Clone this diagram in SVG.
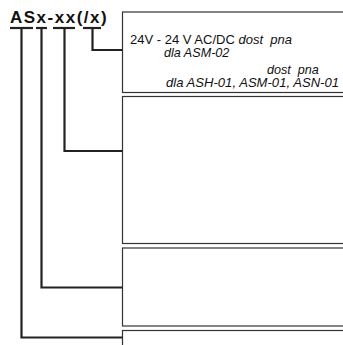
<svg xmlns="http://www.w3.org/2000/svg" width="343" height="345" viewBox="0 0 343 345">
<style>
.box{fill:#fff;stroke:#333;stroke-width:1.2}
.con{fill:none;stroke:#222;stroke-width:2.2}
.ul{stroke:#222;stroke-width:2.2}
.t{font-family:"Liberation Sans",Arial,sans-serif;font-size:12.6px;fill:#111}
.i{font-style:italic}
.title{font-family:"Liberation Sans",Arial,sans-serif;font-size:17px;font-weight:bold;fill:#111;letter-spacing:1.5px}
</style>
<rect width="343" height="345" fill="#fff"/>
<g id="title">
<text class="title" x="10" y="23">ASx-xx(/x)</text>
<line class="ul" x1="10" y1="28" x2="33" y2="28"/>
<line class="ul" x1="36" y1="28" x2="47" y2="28"/>
<line class="ul" x1="53" y1="28" x2="75" y2="28"/>
<line class="ul" x1="83" y1="28" x2="101" y2="28"/>
</g>
<g id="box1">
<rect class="box" x="122.5" y="12" width="230" height="80.5"/>
<text class="t" x="130" y="44" xml:space="preserve" textLength="162" lengthAdjust="spacingAndGlyphs">24V - 24 V AC/DC <tspan class="i">dost  pna</tspan></text>
<text class="t i" x="164" y="56.5">dla ASM-02</text>
<text class="t i" x="267" y="74" xml:space="preserve">dost  pna</text>
<text class="t i" x="166" y="86.5" textLength="173" lengthAdjust="spacingAndGlyphs">dla ASH-01, ASM-01, ASN-01</text>
</g>
<g id="box2">
<rect class="box" x="122.5" y="96.5" width="230" height="147"/>
</g>
<g id="box3">
<rect class="box" x="122.5" y="248" width="230" height="78"/>
</g>
<g id="box4">
<rect class="box" x="122.5" y="330.5" width="230" height="30"/>
</g>
<g id="connectors">
<polyline class="con" points="21.5,28 21.5,337.5 122.5,337.5"/>
<polyline class="con" points="41.5,28 41.5,287.5 122.5,287.5"/>
<polyline class="con" points="64.5,28 64.5,151 122.5,151"/>
<polyline class="con" points="92.5,28 92.5,50 122.5,50"/>
</g>
</svg>
